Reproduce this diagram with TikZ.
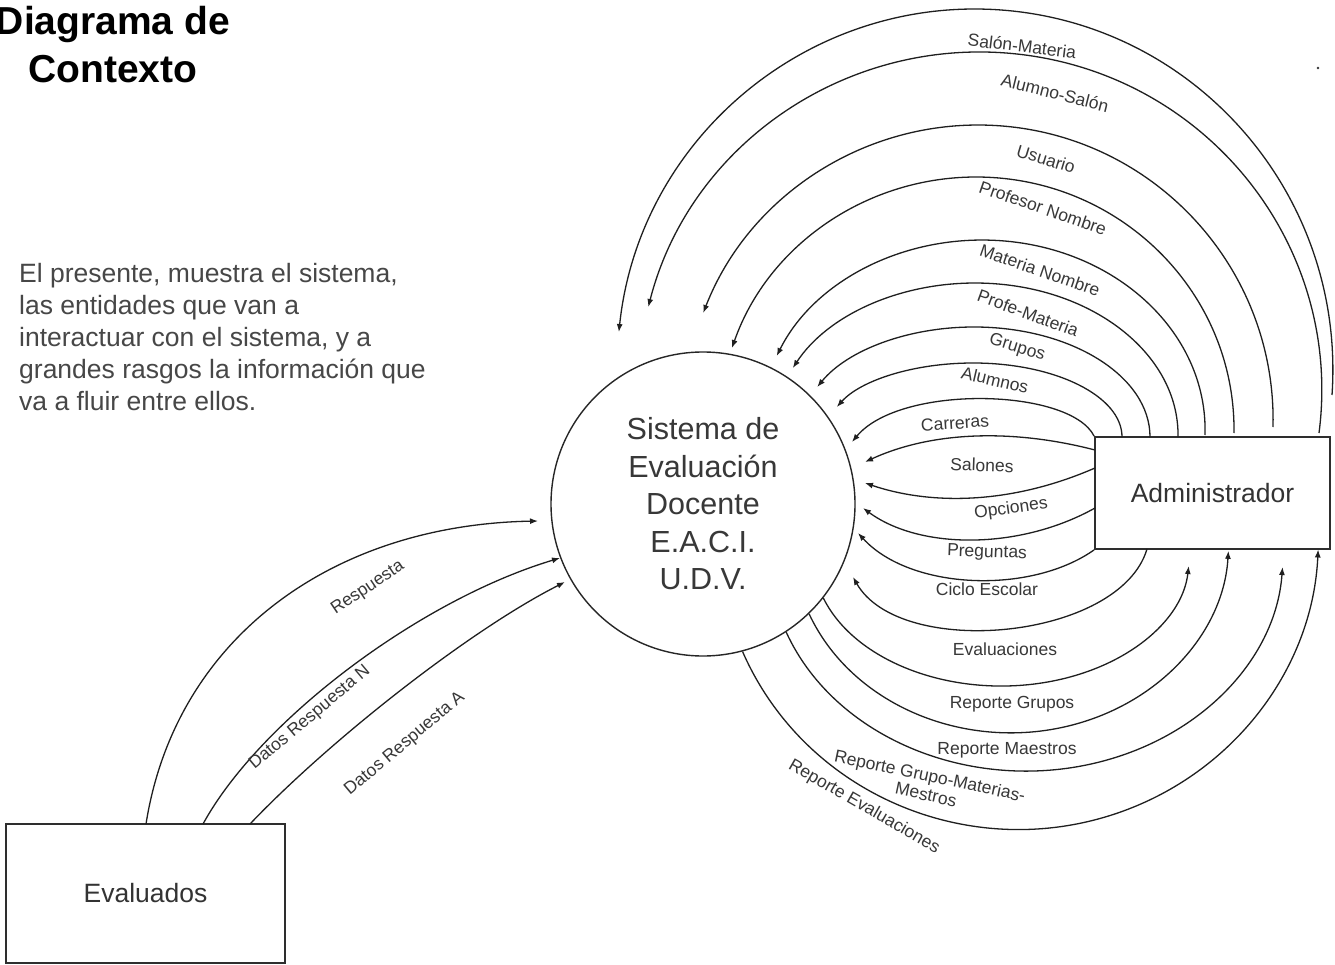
\documentclass[tikz,border=0pt]{standalone}
\usepackage{fontspec}
\setmainfont{Liberation Sans}
\usetikzlibrary{arrows.meta,calc}

\begin{document}
\begin{tikzpicture}[x=1pt,y=-1pt,
  flow/.style={draw=black!88, line width=1.3pt, -{Latex[length=8pt,width=6pt]}},
  flowlbl/.style={font=\fontsize{17.5}{19}\selectfont, text=black!78, inner sep=0pt},
  entity/.style={draw=black!82, line width=1.8pt, inner sep=0pt, text=black!80,
                 font=\fontsize{26.5}{30}\selectfont},
  process/.style={circle, draw=black!85, line width=1.4pt, inner sep=0pt,
                  minimum size=304pt, align=center, text=black!78,
                  font=\fontsize{30.5}{37.5}\selectfont},
  heading/.style={font=\bfseries\fontsize{39}{48}\selectfont, align=center, inner sep=0pt},
  blurb/.style={font=\fontsize{26.5}{32}\selectfont, align=left, inner sep=0pt, text=black!72}
]
\fill[white] (0,0) rectangle (1335,965);
\useasboundingbox (0,0) rectangle (1335,965);

% ---- texts -------------------------------------------------------------
\node[heading] (ttl) at (113,45) {Diagrama de\\Contexto};
\node[blurb, anchor=north west] (txt) at (19,263)
  {El presente, muestra el sistema,\\las entidades que van a\\interactuar con el sistema, y a\\grandes rasgos la información que\\va a fluir entre ellos.};
\fill[black!80] (1318,68) circle (1.3);

% ---- process and entities ---------------------------------------------
\node[process] (sys) at (703,504) {Sistema de\\Evaluación\\Docente\\E.A.C.I.\\U.D.V.};
\node[entity, minimum width=235pt, minimum height=112pt] (adm) at (1212.5,493) {Administrador};
\node[entity, minimum width=279pt, minimum height=139pt] (eva) at (145.5,893.5) {Evaluados};

% ---- Evaluados -> sistema ----------------------------------------------
\coordinate (e1) at (146,824);  \coordinate (r1) at (538,521);
\coordinate (e2) at (203,824);  \coordinate (r2) at (560,558);
\coordinate (e3) at (250,824);  \coordinate (r3) at (565,582);
\draw[flow] (e1) .. controls (175,640) and (330,525) .. (r1);
\draw[flow] (e2) .. controls (260,720) and (420,600) .. (r2);
\draw[flow] (e3) .. controls (330,740) and (470,630) .. (r3);
\node[flowlbl, rotate=34] (l-resp) at (368,588) {Respuesta};
\node[flowlbl, rotate=40] (l-drn) at (310,718) {Datos Respuesta N};
\node[flowlbl, rotate=40] (l-dra) at (405,744) {Datos Respuesta A};

% ---- Administrador -> sistema, over the top -----------------------------
\coordinate (t1) at (1332,395);
\coordinate (t2) at (1319,433);
\coordinate (t3) at (1273,427);
\coordinate (t4) at (1234,433);
\coordinate (t5) at (1205,435);
\coordinate (t6) at (1178,437);
\coordinate (t7) at (1150,437);
\coordinate (t8) at (1122,437);
\draw[flow] (t1) arc[start angle=3.97, end angle=-173.96, x radius=358, y radius=361];
\draw[flow] (t2) arc[start angle=7.31, end angle=-165.79, x radius=342, y radius=338];
\draw[flow] (t3) arc[start angle=1.36, end angle=-158.73, x radius=295, y radius=295];
\draw[flow] (t4) arc[start angle=0.68, end angle=-161.09, x radius=258, y radius=253];
\draw[flow] (t5) arc[start angle=1.5, end angle=-157.08, x radius=223, y radius=190];
\draw[flow] (t6) arc[start angle=0.75, end angle=-153.85, x radius=203, y radius=152];
\draw[flow] (t7) arc[start angle=0, end angle=-152.96, x radius=176, y radius=110];
\draw[flow] (t8) arc[start angle=0, end angle=-156.08, x radius=149, y radius=74];

% ---- Administrador -> sistema, from the left side ----------------------
\coordinate (h2) at (1095,450);
\coordinate (h3) at (1095,468);
\coordinate (h4) at (1095,508);
\coordinate (h6) at (1147,549);
\coordinate (c1) at (852,442);
\coordinate (c2) at (865,462);
\coordinate (c3) at (865,483);
\coordinate (c4) at (863,508);
\coordinate (c5) at (858,533);
\coordinate (c6) at (853,577);
\draw[flow] (adm.north west) .. controls (1070,388) and (900,384) .. (c1);
\draw[flow] (h2) .. controls (1010,428) and (930,432) .. (c2);
\draw[flow] (h3) .. controls (1010,505) and (930,505) .. (c3);
\draw[flow] (h4) .. controls (1020,550) and (920,550) .. (c4);
\draw[flow] (adm.south west) .. controls (1030,595) and (910,590) .. (c5);
\draw[flow] (h6) .. controls (1120,640) and (900,660) .. (c6);

% ---- sistema -> Administrador, underneath ------------------------------
\draw[flow] (sys.-38.55) arc[start angle=161.15, end angle=4.41, x radius=188, y radius=130];
\draw[flow] (sys.-46.0) arc[start angle=157.65, end angle=2.99, x radius=218, y radius=192];
\draw[flow] (sys.-57.3) arc[start angle=158.93, end angle=3.43, x radius=257, y radius=217];
\draw[flow] (sys.-75.2) arc[start angle=156.89, end angle=2.54, x radius=300, y radius=293];

% ---- flow labels -------------------------------------------------------
\node[flowlbl, rotate=-7]  (l1)  at (1022,46)  {Salón-Materia};
\node[flowlbl, rotate=-14] (l2)  at (1055,93)  {Alumno-Salón};
\node[flowlbl, rotate=-17] (l3)  at (1046,159) {Usuario};
\node[flowlbl, rotate=-19] (l4)  at (1043,208) {Profesor Nombre};
\node[flowlbl, rotate=-19] (l5)  at (1040,270) {Materia Nombre};
\node[flowlbl, rotate=-20] (l6)  at (1028,313) {Profe-Materia};
\node[flowlbl, rotate=-17] (l7)  at (1017,348) {Grupos};
\node[flowlbl, rotate=-13] (l8)  at (995,380)  {Alumnos};
\node[flowlbl, rotate=4]   (l9)  at (955,423)  {Carreras};
\node[flowlbl, rotate=-2]  (l10) at (982,465)  {Salones};
\node[flowlbl, rotate=8]   (l11) at (1011,509) {Opciones};
\node[flowlbl, rotate=-2]  (l12) at (987,553)  {Preguntas};
\node[flowlbl]             (l13) at (987,589)  {Ciclo Escolar};
\node[flowlbl]             (l14) at (1005,649) {Evaluaciones};
\node[flowlbl]             (l15) at (1012,704) {Reporte Grupos};
\node[flowlbl]             (l16) at (1007,750) {Reporte Maestros};
\node[flowlbl, rotate=-12, align=center] (l17) at (928,785) {Reporte Grupo-Materias-\\Mestros};
\node[flowlbl, rotate=-30] (l18) at (864,807)  {Reporte Evaluaciones};
\end{tikzpicture}
\end{document}
